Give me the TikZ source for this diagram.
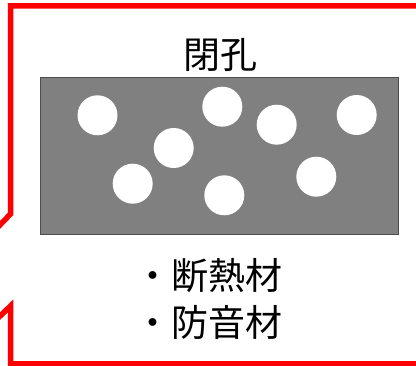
\documentclass[tikz,border=0pt]{standalone}
\usepackage{fontspec}
\newfontfamily\jp{Noto Sans CJK JP}
\definecolor{boxgray}{HTML}{808080}
\definecolor{edgegray}{HTML}{4D4D4D}
\begin{document}
\begin{tikzpicture}[x=1pt,y=-1pt,
  hole/.style={circle,fill=white,draw=none,minimum size=40pt,inner sep=0pt},
  frame/.style={draw=red,line width=5.5pt,line join=miter},
  label/.style={font=\jp\fontsize{37}{40}\selectfont,inner sep=0pt}]
\useasboundingbox (0,0) rectangle (416,366);
\clip (0,0) rectangle (416,366);
% red frame with break on the left
\coordinate (t0) at (430,6);
\coordinate (t1) at (10.5,6);
\coordinate (t2) at (10.5,214);
\coordinate (t3) at (-3,228);
\coordinate (b0) at (-3,319);
\coordinate (b1) at (10.5,306);
\coordinate (b2) at (10.5,364);
\coordinate (b3) at (430,364);
\draw[frame] (t0) -- (t1) -- (t2) -- (t3);
\draw[frame] (b0) -- (b1) -- (b2) -- (b3);
% title
\node[label,anchor=center] (title) at (220,55) {閉孔};
% block
\node[draw=edgegray,fill=boxgray,line width=1pt,minimum width=358pt,minimum height=157pt,inner sep=0pt,anchor=north west] (block) at (40,77) {};
\node[hole] (h1) at (97.5,115.3) {};
\node[hole] (h2) at (222.3,106.7) {};
\node[hole] (h3) at (276.7,124.7) {};
\node[hole] (h4) at (356.7,115) {};
\node[hole] (h5) at (173.7,148) {};
\node[hole] (h6) at (132.7,183.7) {};
\node[hole] (h7) at (224.3,195.3) {};
\node[hole] (h8) at (316.3,176.7) {};
% list
\node[label,anchor=west] (l1) at (134,276) {・断熱材};
\node[label,anchor=west] (l2) at (134,322) {・防音材};
\end{tikzpicture}
\end{document}
